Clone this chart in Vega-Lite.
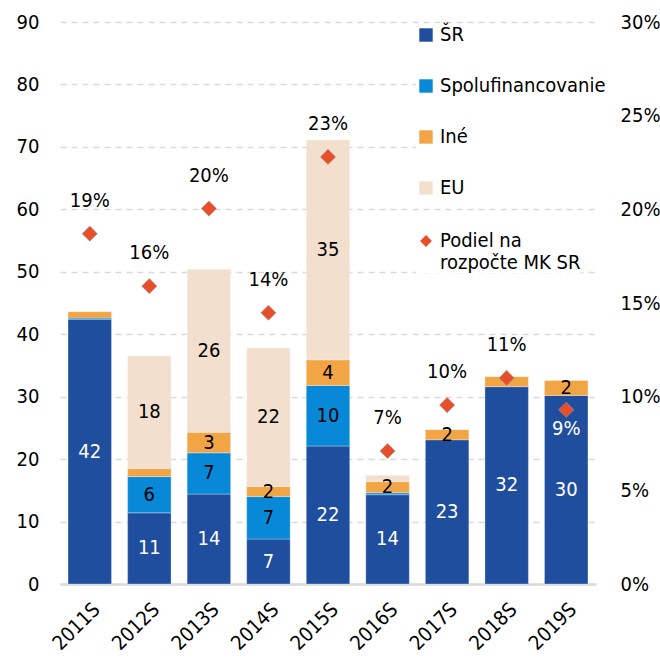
{
  "$schema": "https://vega.github.io/schema/vega-lite/v6.json",
  "width": 536,
  "height": 562,
  "autosize": "none",
  "padding": {"left": 60, "top": 22, "right": 64, "bottom": 74},
  "background": "white",
  "config": {
    "font": "DejaVu Sans Condensed, sans-serif",
    "view": {"stroke": null},
    "axisX": {
      "labelFontSize": 20,
      "labelColor": "black",
      "labelAngle": -45,
      "labelAlign": "right",
      "labelBaseline": "top",
      "labelPadding": 15,
      "ticks": false,
      "domainColor": "#d9d9d9",
      "domainWidth": 2.5
    },
    "axisLeft": {
      "labelFontSize": 20,
      "labelColor": "black",
      "labelPadding": 21,
      "ticks": false,
      "domain": false,
      "grid": true,
      "gridDash": [6, 5],
      "gridColor": "#d9d9d9",
      "gridWidth": 1.5
    },
    "axisRight": {
      "labelFontSize": 20,
      "labelColor": "black",
      "labelPadding": 24,
      "labelAlign": "left",
      "ticks": false,
      "domain": false,
      "grid": false
    },
    "legend": {"labelLimit": 300}
  },
  "datasets": {
    "bars": [
      {"year": "2011S", "cat": "ŠR", "value": 42.4, "label": "42"},
      {"year": "2011S", "cat": "Spolufinancovanie", "value": 0.2, "label": null},
      {"year": "2011S", "cat": "Iné", "value": 1.0, "label": null},
      {"year": "2012S", "cat": "ŠR", "value": 11.4, "label": "11"},
      {"year": "2012S", "cat": "Spolufinancovanie", "value": 5.8, "label": "6"},
      {"year": "2012S", "cat": "Iné", "value": 1.3, "label": null},
      {"year": "2012S", "cat": "EU", "value": 18.0, "label": "18"},
      {"year": "2013S", "cat": "ŠR", "value": 14.4, "label": "14"},
      {"year": "2013S", "cat": "Spolufinancovanie", "value": 6.6, "label": "7"},
      {"year": "2013S", "cat": "Iné", "value": 3.3, "label": "3"},
      {"year": "2013S", "cat": "EU", "value": 26.1, "label": "26"},
      {"year": "2014S", "cat": "ŠR", "value": 7.2, "label": "7"},
      {"year": "2014S", "cat": "Spolufinancovanie", "value": 6.8, "label": "7"},
      {"year": "2014S", "cat": "Iné", "value": 1.6, "label": "2"},
      {"year": "2014S", "cat": "EU", "value": 22.2, "label": "22"},
      {"year": "2015S", "cat": "ŠR", "value": 22.1, "label": "22"},
      {"year": "2015S", "cat": "Spolufinancovanie", "value": 9.7, "label": "10"},
      {"year": "2015S", "cat": "Iné", "value": 4.1, "label": "4"},
      {"year": "2015S", "cat": "EU", "value": 35.2, "label": "35"},
      {"year": "2016S", "cat": "ŠR", "value": 14.3, "label": "14"},
      {"year": "2016S", "cat": "Spolufinancovanie", "value": 0.3, "label": null},
      {"year": "2016S", "cat": "Iné", "value": 1.8, "label": "2"},
      {"year": "2016S", "cat": "EU", "value": 1.0, "label": null},
      {"year": "2017S", "cat": "ŠR", "value": 23.1, "label": "23"},
      {"year": "2017S", "cat": "Iné", "value": 1.6, "label": "2"},
      {"year": "2018S", "cat": "ŠR", "value": 31.6, "label": "32"},
      {"year": "2018S", "cat": "Iné", "value": 1.6, "label": null},
      {"year": "2019S", "cat": "ŠR", "value": 30.2, "label": "30"},
      {"year": "2019S", "cat": "Iné", "value": 2.4, "label": "2"}
    ],
    "share": [
      {"year": "2011S", "share": 0.187, "series": "Podiel na rozpočte MK SR"},
      {"year": "2012S", "share": 0.159, "series": "Podiel na rozpočte MK SR"},
      {"year": "2013S", "share": 0.2004, "series": "Podiel na rozpočte MK SR"},
      {"year": "2014S", "share": 0.1448, "series": "Podiel na rozpočte MK SR"},
      {"year": "2015S", "share": 0.228, "series": "Podiel na rozpočte MK SR"},
      {"year": "2016S", "share": 0.071, "series": "Podiel na rozpočte MK SR"},
      {"year": "2017S", "share": 0.0955, "series": "Podiel na rozpočte MK SR"},
      {"year": "2018S", "share": 0.110, "series": "Podiel na rozpočte MK SR"},
      {"year": "2019S", "share": 0.093, "series": "Podiel na rozpočte MK SR"}
    ]
  },
  "layer": [
    {
      "data": {"name": "bars"},
      "transform": [
        {"calculate": "indexof(['ŠR','Spolufinancovanie','Iné','EU'], datum.cat)", "as": "ord"},
        {"stack": "value", "groupby": ["year"], "sort": [{"field": "ord", "order": "ascending"}], "as": ["v0", "v1"]},
        {"calculate": "(datum.v0 + datum.v1) / 2", "as": "mid"}
      ],
      "layer": [
        {
          "mark": {"type": "bar", "stroke": "white", "strokeWidth": 0.6, "strokeOpacity": 0.5},
          "encoding": {
            "x": {"field": "year", "type": "nominal", "title": null, "scale": {"paddingInner": 0.27, "paddingOuter": 0.135}},
            "y": {"field": "v0", "type": "quantitative", "title": null, "scale": {"domain": [0, 90], "nice": false}, "axis": {"values": [0, 10, 20, 30, 40, 50, 60, 70, 80, 90]}},
            "y2": {"field": "v1"},
            "color": {
              "field": "cat", "type": "nominal",
              "scale": {"domain": ["ŠR", "Spolufinancovanie", "Iné", "EU"], "range": ["#1F4E9E", "#0889D8", "#F2A545", "#F3DFCD"]},
              "legend": {"orient": "none", "legendX": 356, "legendY": 3, "title": null, "labelFontSize": 20, "labelColor": "black", "symbolType": "square", "symbolSize": 180, "symbolStrokeWidth": 0, "rowPadding": 31, "labelOffset": 4, "padding": 0, "fillColor": "white"}
            }
          }
        },
        {
          "transform": [{"filter": "datum.label != null"}],
          "mark": {"type": "text", "fontSize": 20},
          "encoding": {
            "x": {"field": "year", "type": "nominal", "title": null},
            "y": {"field": "mid", "type": "quantitative", "title": null},
            "text": {"field": "label"},
            "color": {"condition": {"test": "datum.cat == 'ŠR'", "value": "white"}, "value": "black"}
          }
        }
      ]
    },
    {
      "data": {"name": "share"},
      "layer": [
        {
          "mark": {"type": "point", "filled": true, "size": 230, "color": "#E94E2B", "opacity": 1, "stroke": "#9a9a9a", "strokeWidth": 0.6},
          "encoding": {
            "x": {"field": "year", "type": "nominal", "title": null},
            "y": {"field": "share", "type": "quantitative", "title": null, "scale": {"domain": [0, 0.3], "nice": false}, "axis": {"values": [0, 0.05, 0.1, 0.15, 0.2, 0.25, 0.3], "format": ".0%"}},
            "shape": {
              "field": "series", "type": "nominal",
              "scale": {"range": ["diamond"]},
              "legend": {"orient": "none", "legendX": 356, "legendY": 209, "title": null, "labelFontSize": 20, "labelColor": "black", "symbolSize": 140, "symbolFillColor": "#E94E2B", "symbolStrokeColor": "#9a9a9a", "symbolStrokeWidth": 0.6, "labelExpr": "['Podiel na', 'rozpočte MK SR']", "labelOffset": 4, "padding": 0, "fillColor": "white"}
            }
          }
        },
        {
          "transform": [{"filter": "datum.year != '2019S'"}],
          "mark": {"type": "text", "fontSize": 20, "dy": -33, "color": "black"},
          "encoding": {
            "x": {"field": "year", "type": "nominal", "title": null},
            "y": {"field": "share", "type": "quantitative", "title": null},
            "text": {"field": "share", "format": ".0%"}
          }
        },
        {
          "transform": [{"filter": "datum.year == '2019S'"}],
          "mark": {"type": "text", "fontSize": 20, "dy": 19, "color": "white"},
          "encoding": {
            "x": {"field": "year", "type": "nominal", "title": null},
            "y": {"field": "share", "type": "quantitative", "title": null},
            "text": {"field": "share", "format": ".0%"}
          }
        }
      ]
    }
  ],
  "resolve": {"scale": {"y": "independent"}}
}
